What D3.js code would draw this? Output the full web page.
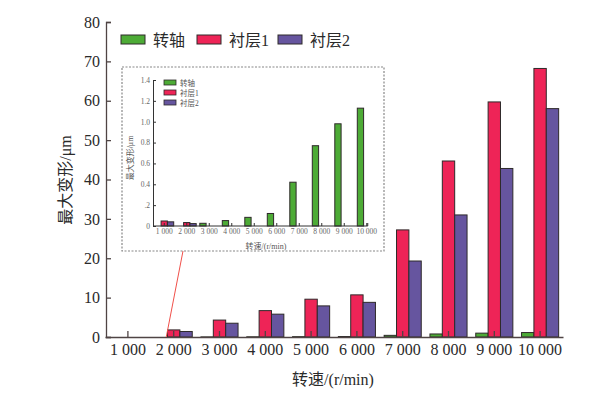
<!DOCTYPE html>
<html>
<head>
<meta charset="utf-8">
<script src="https://cdn.jsdelivr.net/npm/d3@7"></script>
<style>
  html, body { margin: 0; padding: 0; background: #fff; }
  svg { display: block; font-family: "Liberation Serif", "Noto Sans CJK SC", serif; }
</style>
</head>
<body>
<div id="chart"></div>
<script>
// Max deformation vs rotating speed — grouped bars with zoomed inset for the shaft.

const speeds = ["1 000", "2 000", "3 000", "4 000", "5 000", "6 000", "7 000", "8 000", "9 000", "10 000"];
const seriesNames = ["转轴", "衬层1", "衬层2"];
const shaft = [0, 0, 0.026, 0.052, 0.083, 0.12, 0.42, 0.77, 0.98, 1.13];
const liner1 = [0, 1.8, 4.3, 6.7, 9.6, 10.7, 27.2, 44.7, 59.7, 68.2];
const liner2 = [0, 1.4, 3.5, 5.8, 7.9, 8.8, 19.3, 31.0, 42.8, 58.0];
const yTicks = [0, 10, 20, 30, 40, 50, 60, 70, 80];

// inset (zoom on small values)
const insetShaft = [0, 0, 0.026, 0.052, 0.083, 0.12, 0.42, 0.77, 0.98, 1.13];
const insetLiner1 = [0.048, 0.033, 0, 0, 0, 0, 0, 0, 0, 0];
const insetLiner2 = [0.04, 0.023, 0, 0, 0, 0, 0, 0, 0, 0];
const insetTicks = [0, 0.2, 0.4, 0.6, 0.8, 1.0, 1.2, 1.4];

const colors = ["#4dab36", "#ee2457", "#66559f"];
const axisColor = "#4f4444";

const W = 611, H = 397;
const svg = d3.select("#chart").append("svg").attr("width", W).attr("height", H);

function rows(a, b, c) {
  return speeds.map((s, i) => ({ s, vals: [a[i], b[i], c[i]] }));
}

function drawBars(g, data, x, x1, y) {
  const grp = g.append("g").selectAll("g").data(data).join("g")
    .attr("transform", d => `translate(${x(d.s)},0)`);
  grp.selectAll("rect").data(d => d.vals.map((v, k) => ({ v, k })).filter(o => o.v > 0)).join("rect")
    .attr("x", o => x1(o.k))
    .attr("width", x1.bandwidth())
    .attr("y", o => y(o.v))
    .attr("height", o => y(0) - y(o.v))
    .attr("fill", o => colors[o.k])
    .attr("stroke", "#2e2a2a")
    .attr("stroke-width", 1);
}

// ---- main chart
const m = { left: 106, right: 563, top: 22, bottom: 337 };
const x = d3.scaleBand().domain(speeds).range([m.left - 1, m.right]).paddingInner(0.19).paddingOuter(0.095);
const x1 = d3.scaleBand().domain([0, 1, 2]).range([0, x.bandwidth()]);
const y = d3.scaleLinear().domain([0, 80]).range([m.bottom, m.top]);

drawBars(svg, rows(shaft, liner1, liner2), x, x1, y);

const gx = svg.append("g").attr("transform", `translate(0,${m.bottom})`)
  .call(d3.axisBottom(x).tickSize(-6).tickSizeOuter(0).tickPadding(7));
const gy = svg.append("g").attr("transform", `translate(${m.left},0)`)
  .call(d3.axisLeft(y).tickValues(yTicks).tickSize(-5).tickPadding(6));
[gx, gy].forEach(g => {
  g.selectAll("path, line").attr("stroke", axisColor).attr("stroke-width", 1.3);
  g.selectAll("text").attr("fill", "#2a2a2a").attr("font-size", 16).attr("font-family", "Liberation Serif, serif");
});
// band ticks sit at centre of the middle bar
gx.selectAll(".tick").attr("transform", d => `translate(${x(d) + x1(1) + x1.bandwidth() / 2},0)`);

svg.append("text").attr("x", 333).attr("y", 385).attr("text-anchor", "middle")
  .attr("font-size", 16).attr("fill", "#2a2a2a").text("转速/(r/min)");
svg.append("text").attr("transform", "translate(71,180) rotate(-90)").attr("text-anchor", "middle")
  .attr("font-size", 16).attr("fill", "#2a2a2a").text("最大变形/μm");

// legend
const leg = svg.append("g").selectAll("g").data(seriesNames).join("g")
  .attr("transform", (d, i) => `translate(${[121, 197, 278][i]},35)`);
leg.append("rect").attr("width", 24).attr("height", 9).attr("fill", (d, i) => colors[i])
  .attr("stroke", "#2e2a2a").attr("stroke-width", 1);
leg.append("text").attr("x", 32).attr("y", 11).attr("font-size", 16).attr("fill", "#2a2a2a").text(d => d);

// ---- inset
const box = { left: 122, top: 67, right: 384, bottom: 251 };
const n = { left: 153, right: 378, top: 80, bottom: 226 };
const ix = d3.scaleBand().domain(speeds).range([n.left, n.right]).paddingInner(0.16).paddingOuter(0.08);
const ix1 = d3.scaleBand().domain([0, 1, 2]).range([0, ix.bandwidth()]);
const iy = d3.scaleLinear().domain([0, 1.4]).range([n.bottom, n.top]);

// connector line from the main bars up to the inset
svg.append("line")
  .attr("x1", x("2 000") + x.bandwidth() * 0.3).attr("y1", y(0))
  .attr("x2", 183).attr("y2", box.bottom)
  .attr("stroke", "#f0504a").attr("stroke-width", 1);

svg.append("rect").attr("x", box.left).attr("y", box.top)
  .attr("width", box.right - box.left).attr("height", box.bottom - box.top)
  .attr("fill", "#fff").attr("stroke", "#888").attr("stroke-width", 1.2).attr("stroke-dasharray", "2,1.5");

const inset = svg.append("g");
drawBars(inset, rows(insetShaft, insetLiner1, insetLiner2), ix, ix1, iy);

const igx = inset.append("g").attr("transform", `translate(0,${n.bottom})`)
  .call(d3.axisBottom(ix).tickSize(-3).tickSizeOuter(0).tickPadding(3));
igx.selectAll(".tick").attr("transform", d => `translate(${ix(d) + ix1(1) + ix1.bandwidth() / 2},0)`);
igx.select(".domain").attr("d", `M${n.left},0H${ix("10 000") + ix1(1) + ix1.bandwidth() / 2 + 1}V-3`);
const igy = inset.append("g").attr("transform", `translate(${n.left},0)`)
  .call(d3.axisLeft(iy).tickValues(insetTicks).tickSize(-3).tickSizeOuter(-3).tickPadding(3)
    .tickFormat(v => v === 0 ? "0" : v === 0.2 ? ".2" : v.toFixed(1)));
[igx, igy].forEach(g => {
  g.selectAll("path, line").attr("stroke", "#333").attr("stroke-width", 1);
  g.selectAll("text").attr("fill", "#666").attr("font-size", 7.5).attr("font-family", "Liberation Serif, serif");
});

inset.append("text").attr("x", 266).attr("y", 249).attr("text-anchor", "middle")
  .attr("font-size", 8).attr("fill", "#555").text("转速/(r/min)");
inset.append("text").attr("transform", "translate(133,158) rotate(-90)").attr("text-anchor", "middle")
  .attr("font-size", 8).attr("fill", "#555").text("最大变形/μm");

const ileg = inset.append("g").selectAll("g").data(seriesNames).join("g")
  .attr("transform", (d, i) => `translate(164,${80 + i * 10})`);
ileg.append("rect").attr("width", 12).attr("height", 5).attr("fill", (d, i) => colors[i])
  .attr("stroke", "#2e2a2a").attr("stroke-width", 0.8);
ileg.append("text").attr("x", 16).attr("y", 5.5).attr("font-size", 7.5).attr("fill", "#555").text(d => d);
</script>
</body>
</html>
